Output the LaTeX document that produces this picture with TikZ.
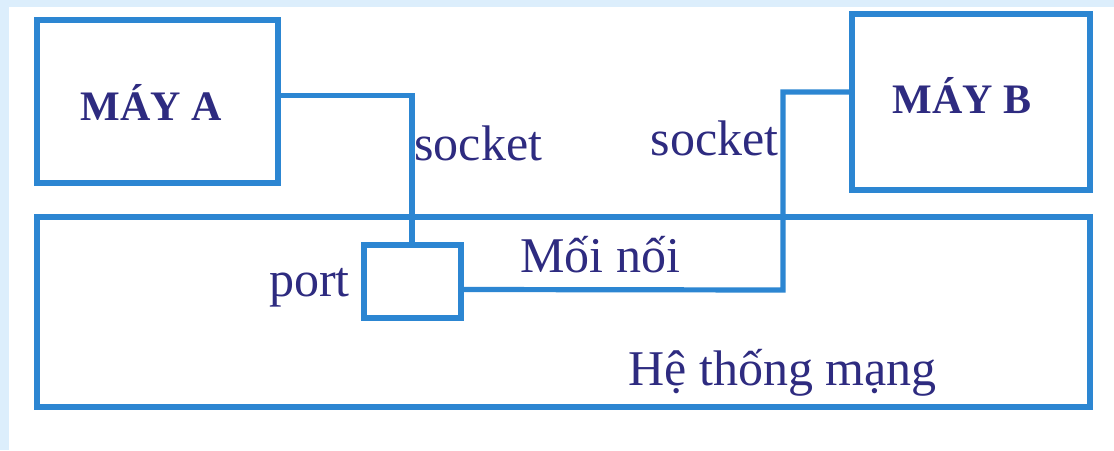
\documentclass[tikz,border=0pt]{standalone}
\usepackage{fontspec}
\setmainfont{Liberation Serif}
\usetikzlibrary{positioning,calc}
\definecolor{wire}{HTML}{2C86D2}
\definecolor{ink}{HTML}{2E2B80}
\definecolor{haze}{HTML}{DCEEFC}
\newcommand{\hd}[1]{{\fontsize{21}{23}\selectfont\bfseries\color{ink}#1}}
\tikzset{
  box/.style ={draw=wire, line width=3pt, fill=none, inner sep=0pt},
  ln/.style  ={draw=wire, line width=2.6pt},
  lbl/.style ={font=\fontsize{25}{27}\selectfont, color=ink, inner sep=0pt},
}

\begin{document}
\begin{tikzpicture}[x=0.5pt,y=-0.5pt]
    \fill[white] (0,0) rectangle (1114,450);
    \fill[haze] (0,0) rectangle (1114,7);
    \fill[haze] (0,0) rectangle (9,450);
    \useasboundingbox (0,0) rectangle (1114,450);

    \node[box,minimum width=120.5pt,minimum height=81.5pt] (mayA) at (157.5,101.5) {};
    \node[box,minimum width=119pt,minimum height=88pt] (mayB) at (971,102) {};
    \node[box,minimum width=526.5pt,minimum height=95pt] (mang) at (563.5,312) {};
    \node[box,minimum width=48.5pt,minimum height=36.5pt] (port) at (412,281.5) {};

    \node[anchor=base west,inner sep=0pt] (tA) at (80,120) {\hd{MÁY A}};
    \node[anchor=base west,inner sep=0pt] (tB) at (892,113) {\hd{MÁY B}};

    \coordinate (jB) at (783,290);
    \draw[ln] ([yshift=3pt]mayA.east) -| (port.north);
    \draw[ln] ([yshift=5pt]mayB.west) -| (jB) -- ([yshift=-4pt]port.east);

    \node[lbl,anchor=base west] (sA) at (414,160) {socket};
    \node[lbl,anchor=base east] (sB) at (779,155) {socket};
    \node[lbl,anchor=base west] (noi) at (520,272) {Mối nối};
    \node[lbl,anchor=base east] (pt) at (350,296) {port};
    \node[lbl,anchor=base west] (ht) at (628,385) {Hệ thống mạng};
  \end{tikzpicture}
\end{document}
